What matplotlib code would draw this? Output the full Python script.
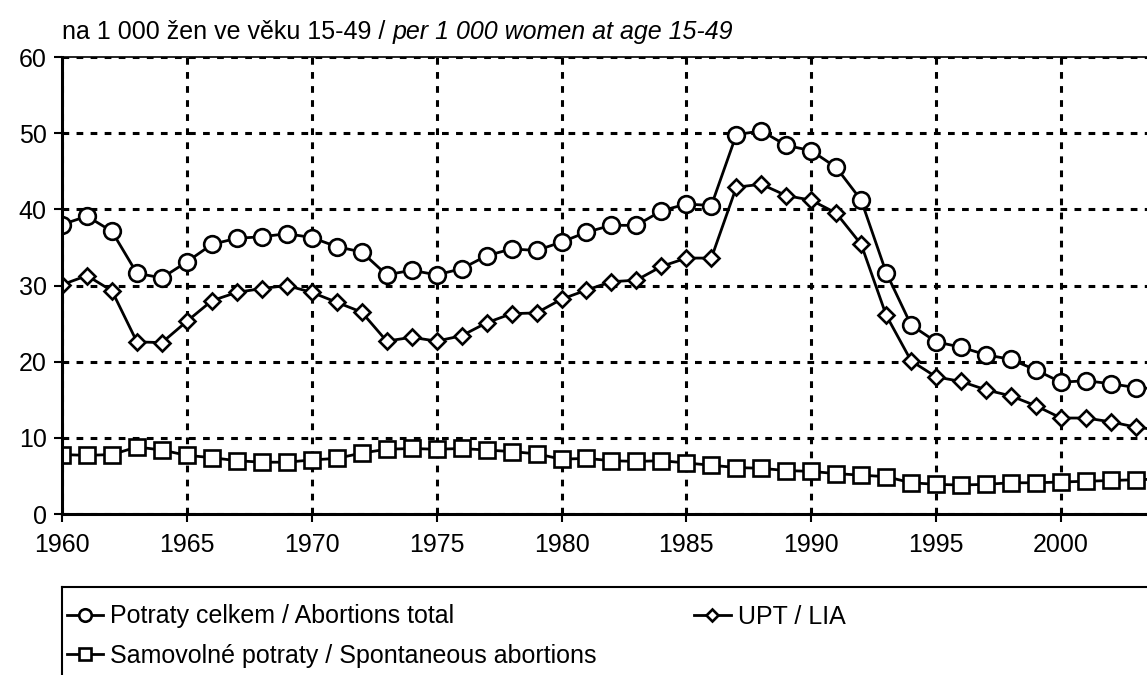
import numpy as np
import matplotlib
matplotlib.use("Agg")
from matplotlib import pyplot as plt
from matplotlib.lines import Line2D

plt.rcParams['font.family'] = ['Liberation Sans', 'DejaVu Sans']

years = list(range(1960, 2005))

total = [38.0, 39.1, 37.1, 31.6, 31.0, 33.1, 35.4, 36.2, 36.4, 36.8,
         36.3, 35.1, 34.4, 31.4, 32.0, 31.4, 32.2, 33.9, 34.8, 34.6,
         35.7, 37.0, 37.9, 37.9, 39.8, 40.7, 40.5, 49.8, 50.3, 48.4,
         47.7, 45.5, 41.2, 31.7, 24.8, 22.6, 21.9, 20.9, 20.3, 18.9,
         17.3, 17.5, 17.1, 16.6, 16.4]

upt = [30.1, 31.3, 29.3, 22.6, 22.5, 25.3, 28.0, 29.1, 29.6, 30.0,
       29.1, 27.8, 26.5, 22.7, 23.2, 22.7, 23.4, 25.1, 26.3, 26.4,
       28.2, 29.4, 30.5, 30.7, 32.5, 33.6, 33.6, 42.9, 43.3, 41.8,
       41.2, 39.5, 35.4, 26.1, 20.1, 18.0, 17.4, 16.3, 15.5, 14.2,
       12.6, 12.6, 12.1, 11.4, 11.0]

spontaneous = [7.8, 7.7, 7.8, 8.8, 8.4, 7.7, 7.4, 7.0, 6.8, 6.8,
               7.1, 7.3, 8.0, 8.5, 8.6, 8.5, 8.6, 8.4, 8.2, 7.9,
               7.2, 7.3, 7.0, 6.9, 7.0, 6.7, 6.4, 6.1, 6.0, 5.7,
               5.6, 5.3, 5.1, 4.9, 4.1, 3.9, 3.8, 3.9, 4.1, 4.1,
               4.2, 4.3, 4.4, 4.5, 4.6]

labels = ['Potraty celkem / Abortions total',
          'UPT / LIA',
          'Samovolné potraty / Spontaneous abortions']

W, H = 1147, 675
fig = plt.figure(figsize=(W / 100, H / 100), dpi=100)
ax = fig.add_axes([62 / W, (H - 514) / H, 1 - 62 / W, (514 - 57) / H])

mk = dict(color='black', lw=2.0, markerfacecolor='white', markeredgecolor='black',
          markeredgewidth=1.9)
l1, = ax.plot(years, total, marker='o', ms=12, label=labels[0], **mk)
l2, = ax.plot(years, upt, marker='D', ms=8.5, label=labels[1], **mk)
l3, = ax.plot(years, spontaneous, marker='s', ms=12, label=labels[2], **mk)

ax.set_xlim(1960, 1960 + (W - 62) / 24.975)
ax.set_ylim(0, 60)
ax.set_xticks(range(1960, 2001, 5))
ax.set_yticks(range(0, 61, 10))
ax.grid(True, color='black', lw=2.2, linestyle=(0, (2.2, 2.4)))
ax.set_axisbelow(True)

for s in ['left', 'bottom']:
    ax.spines[s].set_linewidth(2.2)
ax.spines['top'].set_linewidth(1.2)
ax.spines['right'].set_visible(False)
ax.tick_params(axis='both', direction='out', length=6, width=1.5, labelsize=18, pad=5)
ax.tick_params(axis='x', pad=8)

fig.text(62 / W, 1 - 32 / H, 'na 1 000 žen ve věku 15-49 / ', fontsize=18, va='center', ha='left')
fig.canvas.draw()
r = fig.texts[0].get_window_extent()
fig.text(r.x1 / W, 1 - 32 / H, 'per 1 000 women at age 15-49', fontsize=18, style='italic',
         va='center', ha='left')

# legend frame (extends beyond the figure on the right and bottom)
fig.add_artist(Line2D([62 / W, 1], [1 - 587 / H] * 2, color='black', lw=1.5))
fig.add_artist(Line2D([62 / W] * 2, [1 - 587 / H, 0], color='black', lw=1.5))

leg = fig.legend(handles=[l1, l3, l2], ncol=2, loc='upper left',
                 bbox_to_anchor=(44 / W, 1 - 582 / H), frameon=False, fontsize=18,
                 handlelength=1.45, handletextpad=0.3, columnspacing=3.9,
                 labelspacing=0.6, markerscale=0.75)

fig.savefig('out.png', dpi=100)
